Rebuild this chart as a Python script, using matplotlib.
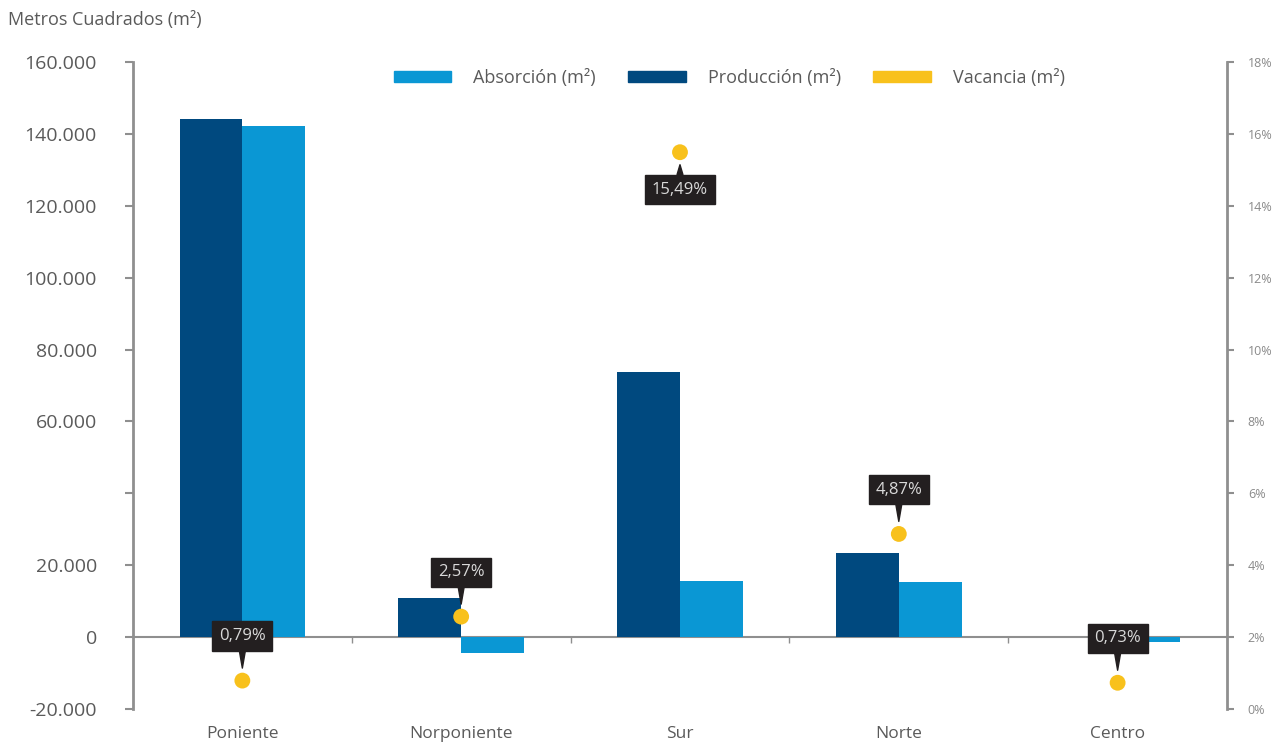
import matplotlib
matplotlib.use('Agg')
import matplotlib.pyplot as plt
from matplotlib.patches import Patch
import numpy as np

# --- Data ---
regiones = ['Poniente', 'Norponiente', 'Sur', 'Norte', 'Centro']
produccion = [144200, 11000, 73800, 23500, 0]
absorcion = [142300, -4300, 15500, 15300, -1400]
vacancia = [0.79, 2.57, 15.49, 4.87, 0.73]
etiqueta_abajo = [False, False, True, False, False]  # Sur has its label under the dot

y_ticks = list(range(-20000, 160001, 20000))
pct_ticks = list(range(0, 19, 2))

# --- Style ---
C_ABS = '#0a97d4'
C_PROD = '#00497f'
C_VAC = '#f8c11c'
C_TEXT = '#5a5a5a'
C_AXIS = '#8f8f8f'
C_BOX = '#231f20'

plt.rcParams['font.family'] = ['Open Sans', 'DejaVu Sans']

fig = plt.figure(figsize=(12.87, 7.46), dpi=100)
ax = fig.add_axes([0.1033, 0.0496, 0.8501, 0.8673])
ax2 = ax.twinx()

x = np.arange(len(regiones))
w = 0.287
ax.bar(x - w / 2, produccion, w, color=C_PROD, zorder=3)
ax.bar(x + w / 2, absorcion, w, color=C_ABS, zorder=3)

ax.set_xlim(-0.5, len(regiones) - 0.5)
ax.set_ylim(-20000, 160000)
ax.set_yticks(y_ticks)
# the 40.000 label is missing in the source chart
ax.set_yticklabels(['' if v == 40000 else f'{v:,}'.replace(',', '.') for v in y_ticks])
ax.tick_params(axis='y', direction='out', length=6, width=1.5, color=C_AXIS,
               labelsize=14, labelcolor=C_TEXT, pad=20)

# x axis sits on the zero line, labels pushed down to the bottom
ax.spines['bottom'].set_position(('data', 0))
ax.spines['bottom'].set_color(C_AXIS)
ax.spines['bottom'].set_linewidth(1.5)
ax.set_xticks(x)
ax.set_xticklabels(regiones)
ax.set_xticks(x[:-1] + 0.5, minor=True)
ax.tick_params(axis='x', which='major', length=0, pad=64, labelsize=12.5, labelcolor=C_TEXT)
ax.tick_params(axis='x', which='minor', direction='out', length=4, width=1, color=C_AXIS)
ax.spines['top'].set_visible(False)
ax.spines['right'].set_visible(False)
ax.spines['left'].set_color(C_AXIS)
ax.spines['left'].set_linewidth(2)

# --- Vacancia on the right axis ---
ax2.set_ylim(0, 18)
ax2.set_yticks(pct_ticks)
ax2.set_yticklabels([f'{v}%' for v in pct_ticks])
ax2.tick_params(axis='y', direction='out', length=5, width=1.5, color=C_AXIS,
                labelsize=9, labelcolor='#8a8a8a', pad=10)
for s in ['top', 'bottom', 'left']:
    ax2.spines[s].set_visible(False)
ax2.spines['right'].set_color(C_AXIS)
ax2.spines['right'].set_linewidth(2)

ax2.scatter(x, vacancia, s=130, color=C_VAC, zorder=4, edgecolors='none')
for xi, v, abajo in zip(x, vacancia, etiqueta_abajo):
    off = -27 if abajo else 32
    ax2.annotate(f'{v:.2f}'.replace('.', ',') + '%', xy=(xi, v), xytext=(0, off),
                 textcoords='offset points', ha='center', va='center',
                 fontsize=12, color='#d9d9d9', zorder=5,
                 bbox=dict(boxstyle='square,pad=0.4', fc=C_BOX, ec=C_BOX),
                 arrowprops=dict(arrowstyle='wedge,tail_width=0.35,shrink_factor=0.5',
                                 fc=C_BOX, ec=C_BOX, shrinkA=0, shrinkB=9))

# --- Legend and title ---
handles = [Patch(color=C_ABS), Patch(color=C_PROD), Patch(color=C_VAC)]
labels = ['Absorción (m²)', 'Producción (m²)', 'Vacancia (m²)']
ax2.legend(handles, labels, loc='center', bbox_to_anchor=(0.545, 0.975), ncol=3,
           frameon=False, fontsize=13, labelcolor=C_TEXT, handlelength=3.2,
           handleheight=0.55, handletextpad=1.2, columnspacing=1.8)

fig.text(0.006, 0.973, 'Metros Cuadrados (m²)', fontsize=13, color=C_TEXT,
         ha='left', va='center')

fig.savefig('out.png', dpi=100)
